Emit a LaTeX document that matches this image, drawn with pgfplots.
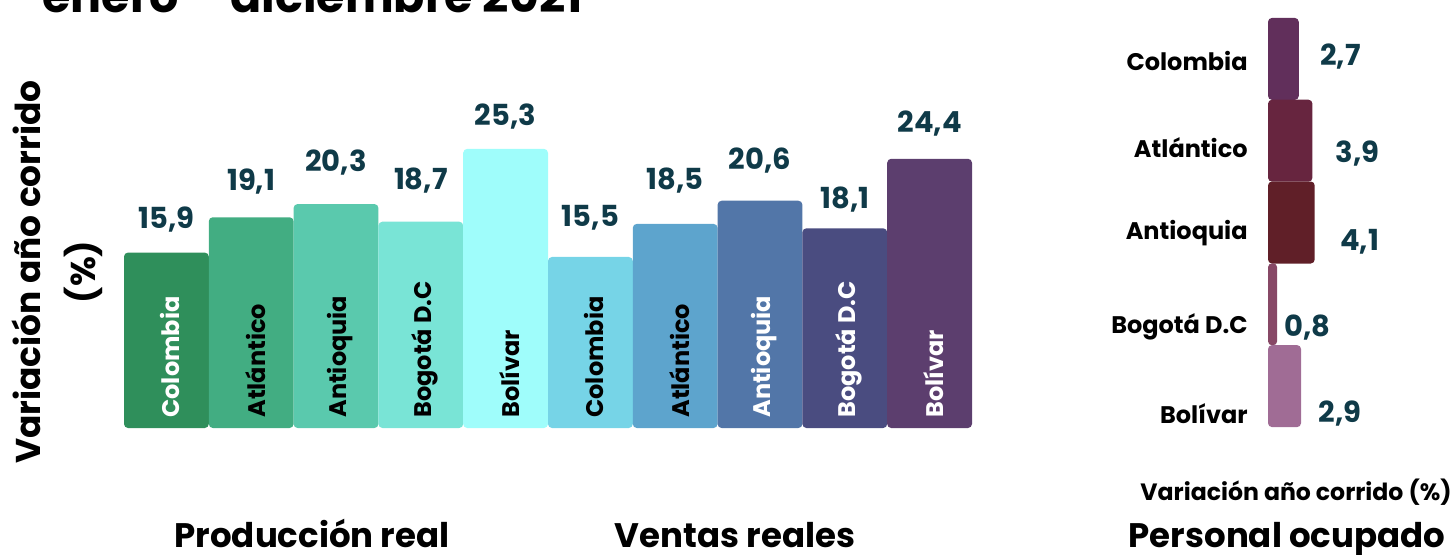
\documentclass[border=0pt]{standalone}
\usepackage{fontspec}
\setmainfont{Poppins}
\usepackage{pgfplots}
\pgfplotsset{compat=1.18}

% produccion
\definecolor{pA}{HTML}{2F8F5B}
\definecolor{pB}{HTML}{42AD82}
\definecolor{pC}{HTML}{5AC9AD}
\definecolor{pD}{HTML}{79E4D6}
\definecolor{pE}{HTML}{9FFDFB}
% ventas
\definecolor{vA}{HTML}{76D4E7}
\definecolor{vB}{HTML}{5DA4CD}
\definecolor{vC}{HTML}{5276A8}
\definecolor{vD}{HTML}{4A4C80}
\definecolor{vE}{HTML}{5C3E6E}
% personal
\definecolor{oA}{HTML}{612F5B}
\definecolor{oB}{HTML}{67253F}
\definecolor{oC}{HTML}{601F28}
\definecolor{oD}{HTML}{874866}
\definecolor{oE}{HTML}{A06C95}
\definecolor{lbl}{HTML}{0F3A48}

\pgfplotsset{
  vb/.style={ybar, bar shift=0pt, fill=#1, draw=none, rounded corners=2pt},
  hb/.style={xbar, bar shift=0pt, fill=#1, draw=none, rounded corners=2pt},
  val/.style={every node near coord/.append style={#1}},
}
\newcommand{\inlbl}[3]{\node[rotate=90, anchor=west, inner sep=0pt, text=#2,
  font=\fontsize{12}{14}\selectfont\bfseries]
  at ([xshift=2pt,yshift=5pt]axis cs:#1,0) {#3};}

\begin{document}
\begin{tikzpicture}
\useasboundingbox (0,0) rectangle (728pt,277pt);

\node[anchor=base west, inner sep=0pt, font=\fontsize{23}{28}\selectfont\bfseries]
  at (21pt,271pt) {enero – diciembre 2021};

\node[rotate=90, align=center, font=\fontsize{17.2}{27.5}\selectfont\bfseries]
  at (28.5pt,141pt) {Variación año corrido\\(\%)};

\begin{axis}[at={(62pt,63pt)}, anchor=south west, scale only axis,
  width=424pt, height=165.5pt, xmin=-0.5, xmax=9.5, ymin=0, ymax=30,
  hide axis, clip=false, ybar, bar shift=0pt, bar width=42.4pt,
  nodes near coords,
  every node near coord/.style={anchor=base, inner sep=0pt, text=lbl,
    font=\fontsize{14.5}{16}\selectfont\bfseries},
  /pgf/number format/.cd, use comma, fixed, fixed zerofill, precision=1,
  assume math mode=true]
% Produccion real
\addplot[vb=pA, val={yshift=12pt}]   coordinates {(0,15.9)};
\addplot[vb=pB, val={yshift=13.5pt}] coordinates {(1,19.1)};
\addplot[vb=pC, val={yshift=16.5pt}] coordinates {(2,20.3)};
\addplot[vb=pD, val={yshift=16pt}]   coordinates {(3,18.7)};
\addplot[vb=pE, val={yshift=11.5pt}] coordinates {(4,25.3)};
% Ventas reales
\addplot[vb=vA, val={yshift=15pt}]   coordinates {(5,15.5)};
\addplot[vb=vB, val={yshift=17pt}]   coordinates {(6,18.5)};
\addplot[vb=vC, val={yshift=15.5pt}] coordinates {(7,20.6)};
\addplot[vb=vD, val={yshift=10pt}]   coordinates {(8,18.1)};
\addplot[vb=vE, val={yshift=13pt}]   coordinates {(9,24.4)};
\inlbl{0}{white}{Colombia}
\inlbl{1}{black}{Atlántico}
\inlbl{2}{black}{Antioquia}
\inlbl{3}{black}{Bogotá D.C}
\inlbl{4}{black}{Bolívar}
\inlbl{5}{black}{Colombia}
\inlbl{6}{black}{Atlántico}
\inlbl{7}{white}{Antioquia}
\inlbl{8}{white}{Bogotá D.C}
\inlbl{9}{white}{Bolívar}
\end{axis}

\begin{axis}[at={(634pt,63.5pt)}, anchor=south west, scale only axis,
  width=28.5pt, height=204.5pt, xmin=0, xmax=5, ymin=-0.5, ymax=4.5,
  y dir=reverse, clip=false, xbar, bar shift=0pt, bar width=41pt,
  axis line style={draw=none}, major tick length=0pt, xtick=\empty,
  ytick={0.02,1.085,2.13,3.28,4.34},
  yticklabels={Colombia,Atlántico,Antioquia,Bogotá D.C,Bolívar},
  yticklabel style={anchor=east, inner sep=0pt, xshift=-10pt,
    font=\fontsize{12}{14}\selectfont\bfseries},
  point meta=x, nodes near coords,
  every node near coord/.style={anchor=mid west, inner sep=0pt, text=lbl,
    font=\fontsize{14.5}{16}\selectfont\bfseries},
  /pgf/number format/.cd, use comma, fixed, fixed zerofill, precision=1,
  assume math mode=true]
\addplot[hb=oA, val={xshift=10.5pt, yshift=-0.5pt}] coordinates {(2.7,0)};
\addplot[hb=oB, val={xshift=11.5pt, yshift=-8pt}]   coordinates {(3.9,1)};
\addplot[hb=oC, val={xshift=12.5pt, yshift=-11.5pt}] coordinates {(4.1,2)};
\addplot[hb=oD, val={xshift=3.5pt, yshift=-13.5pt}] coordinates {(0.8,3)};
\addplot[hb=oE, val={xshift=8.5pt, yshift=-15.5pt}] coordinates {(2.9,4)};
\end{axis}

\node[anchor=base, font=\fontsize{11.8}{14}\selectfont\bfseries]
  at (648pt,27pt) {Variación año corrido (\%)};
\node[anchor=base, font=\fontsize{17}{20}\selectfont\bfseries]
  at (156pt,3.5pt) {Producción real};
\node[anchor=base, font=\fontsize{17}{20}\selectfont\bfseries]
  at (367.5pt,3.5pt) {Ventas reales};
\node[anchor=base, font=\fontsize{17}{20}\selectfont\bfseries]
  at (643.5pt,3.5pt) {Personal ocupado};
\end{tikzpicture}
\end{document}
